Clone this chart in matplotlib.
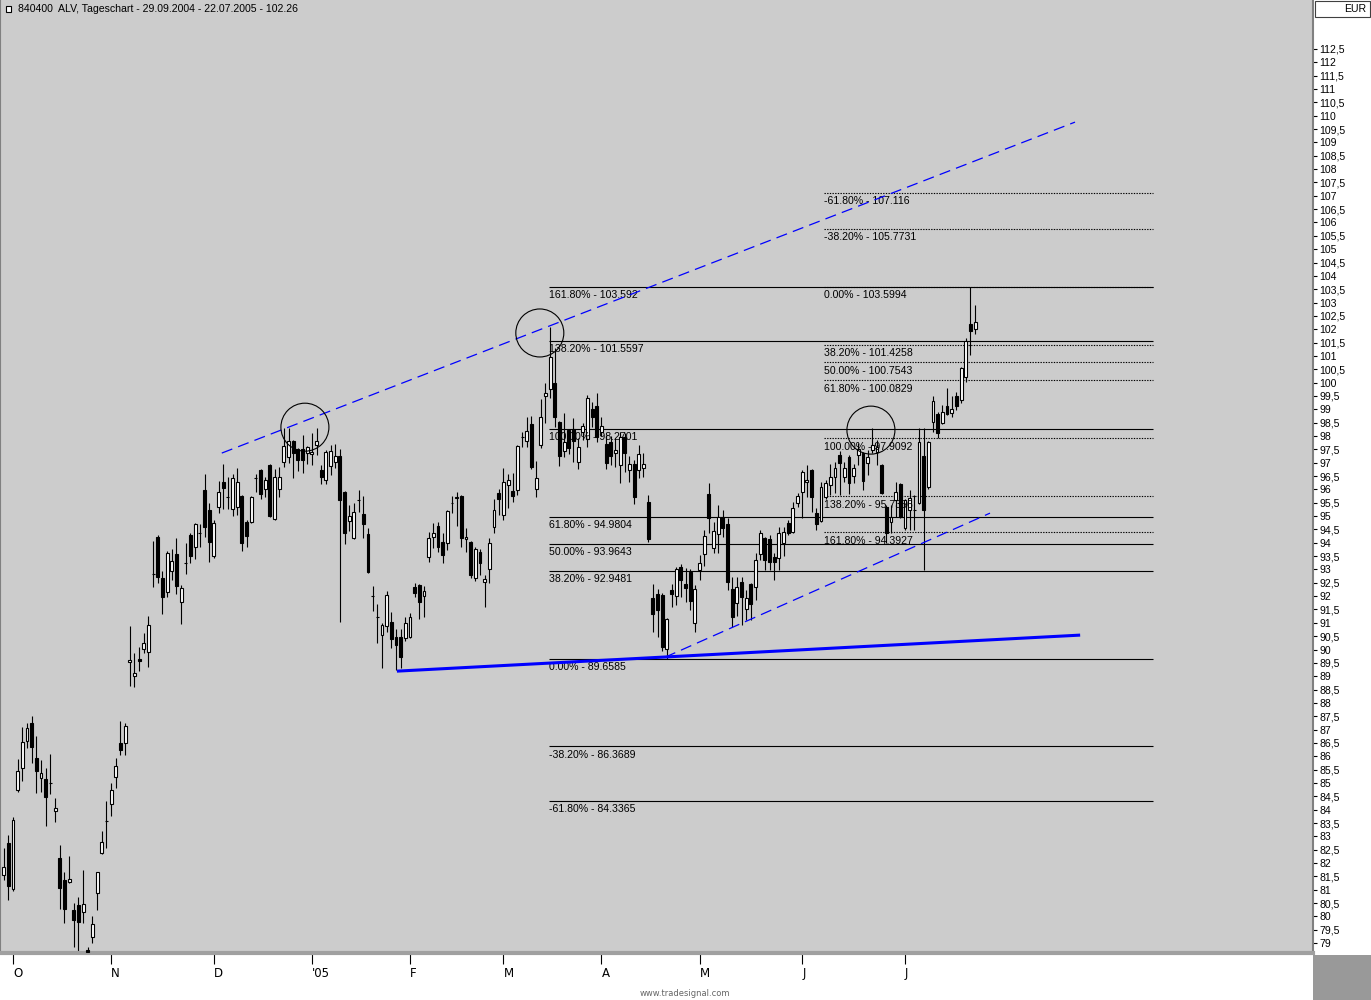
import numpy as np
import pandas as pd
import matplotlib
matplotlib.use("Agg")
import matplotlib.pyplot as plt
from matplotlib.patches import Ellipse, Rectangle

# ALV daily candles 29.09.2004 - 22.07.2005 (EUR)
title = "840400  ALV, Tageschart - 29.09.2004 - 22.07.2005 - 102.26"
holidays = ["2004-12-24", "2004-12-31", "2005-03-25", "2005-03-28"]

opens = [
    81.54, 82.74, 81.02, 84.73, 85.55, 86.56, 87.24, 85.93, 85.18, 85.14,
    84.99, 83.94, 82.18, 81.36, 81.28, 80.23, 80.42, 80.16, 78.73, 79.22,
    80.87, 82.37, 83.57, 84.20, 85.22, 86.49, 86.49, 89.53, 89.00, 89.64,
    90.01, 89.90, 92.82, 94.21, 92.67, 92.15, 92.94, 93.57, 91.77, 93.23,
    94.28, 93.83, 94.36, 95.97, 95.22, 93.50, 95.33, 96.27, 95.71, 95.26,
    95.33, 95.75, 94.77, 94.77, 96.42, 96.72, 96.01, 96.91, 94.88, 96.01,
    97.02, 97.21, 97.81, 97.51, 97.51, 97.36, 97.32, 97.66, 96.72, 96.34,
    96.87, 97.02, 97.24, 95.89, 94.81, 94.17, 95.60, 95.07, 94.32, 92.00,
    91.21, 90.54, 90.87, 91.02, 90.46, 90.46, 90.42, 90.46, 92.34, 92.41,
    92.00, 93.46, 94.21, 94.62, 94.02, 93.98, 95.48, 95.67, 95.75, 94.13,
    94.02, 92.67, 93.65, 92.52, 93.01, 94.58, 95.86, 95.03, 96.16, 95.93,
    95.97, 97.96, 97.81, 98.44, 96.01, 97.66, 99.49, 99.75, 99.98, 98.52,
    97.43, 98.22, 98.26, 97.02, 98.14, 97.88, 99.01, 99.12, 98.14, 97.69,
    97.77, 97.36, 96.91, 97.96, 96.72, 96.94, 96.72, 96.79, 95.52, 91.92,
    92.07, 92.04, 90.01, 92.22, 92.00, 93.09, 92.45, 92.90, 90.99, 92.97,
    93.57, 95.82, 93.80, 94.32, 94.96, 94.70, 92.26, 91.74, 92.52, 91.51,
    92.45, 92.34, 93.57, 94.17, 94.13, 93.46, 93.42, 93.98, 94.73, 94.40,
    95.48, 95.89, 96.27, 96.72, 95.11, 94.81, 95.71, 96.16, 96.46, 97.28,
    96.46, 97.21, 96.49, 97.28, 97.36, 96.98, 97.47, 97.39, 96.91, 95.33,
    94.77, 95.60, 96.19, 94.55, 95.22, 95.22, 95.48, 97.24, 96.08, 98.52,
    98.82, 98.48, 99.12, 98.86, 99.49, 99.34, 100.20, 102.19, 102.00,
]
highs = [
    82.56, 83.04, 83.72, 85.89, 87.09, 87.24, 87.50, 86.75, 85.85, 85.55,
    86.08, 84.43, 82.67, 81.66, 82.26, 80.49, 80.72, 81.73, 78.85, 80.01,
    81.66, 83.19, 84.32, 84.99, 85.93, 87.31, 87.24, 90.87, 89.86, 90.09,
    90.61, 91.25, 94.06, 94.28, 92.94, 93.68, 93.76, 94.17, 92.41, 93.98,
    94.35, 94.75, 94.70, 96.57, 95.48, 94.85, 96.31, 96.94, 96.46, 96.57,
    96.79, 95.80, 94.85, 95.75, 96.57, 96.76, 96.46, 96.95, 96.76, 96.83,
    98.29, 98.29, 97.85, 97.55, 98.03, 97.62, 98.11, 98.29, 96.91, 97.47,
    97.66, 97.69, 97.51, 95.93, 95.41, 95.48, 95.97, 95.75, 94.55, 92.37,
    91.70, 90.99, 92.19, 91.40, 90.76, 90.76, 91.21, 91.36, 92.49, 92.45,
    92.37, 94.40, 94.73, 94.77, 94.36, 95.22, 95.75, 95.89, 95.80, 94.55,
    94.05, 93.83, 93.76, 92.79, 94.17, 95.63, 96.01, 96.79, 96.57, 96.61,
    97.66, 98.14, 98.71, 98.74, 97.06, 99.38, 99.98, 102.08, 101.29, 98.55,
    98.86, 98.25, 98.67, 97.92, 98.48, 99.53, 99.27, 99.60, 98.71, 98.03,
    97.99, 97.92, 98.14, 98.11, 97.24, 97.09, 97.66, 97.36, 95.78, 92.45,
    92.26, 92.10, 91.18, 92.45, 93.09, 93.20, 93.05, 93.01, 92.41, 93.53,
    94.47, 96.23, 94.77, 95.41, 95.22, 94.92, 92.71, 92.71, 92.71, 92.22,
    92.49, 93.61, 94.47, 94.20, 94.28, 93.61, 94.58, 94.58, 94.85, 95.52,
    95.86, 96.72, 96.91, 96.76, 95.30, 96.27, 96.34, 96.94, 97.02, 97.43,
    97.02, 97.28, 96.94, 97.73, 97.40, 97.47, 98.29, 97.84, 96.95, 95.41,
    95.41, 96.27, 96.23, 95.64, 95.97, 95.78, 98.29, 98.29, 97.80, 99.49,
    98.89, 99.15, 99.79, 99.49, 99.64, 100.58, 101.66, 103.60, 102.90,
]
lows = [
    81.36, 80.61, 80.94, 84.65, 85.07, 86.30, 85.74, 84.62, 84.65, 83.38,
    84.58, 83.53, 80.27, 79.75, 81.24, 78.85, 78.62, 79.75, 78.40, 79.00,
    80.23, 82.33, 82.56, 83.75, 84.80, 86.04, 86.04, 88.63, 88.59, 89.19,
    89.86, 89.34, 92.34, 92.49, 91.32, 91.96, 92.60, 92.07, 90.95, 92.82,
    93.23, 93.38, 93.83, 94.21, 93.27, 93.42, 95.11, 95.26, 95.26, 95.00,
    95.03, 93.68, 93.83, 94.73, 95.89, 95.63, 95.71, 94.96, 94.85, 95.71,
    96.83, 96.98, 96.42, 96.68, 96.61, 96.94, 96.91, 97.28, 96.19, 96.19,
    96.53, 96.79, 91.02, 93.95, 94.43, 94.13, 95.15, 94.17, 92.85, 91.44,
    90.24, 89.30, 90.65, 90.05, 89.23, 89.30, 90.31, 90.42, 91.96, 91.14,
    91.21, 93.27, 93.80, 93.65, 93.23, 93.72, 95.11, 94.62, 93.83, 93.65,
    92.67, 92.56, 92.79, 91.59, 92.49, 94.36, 95.03, 94.85, 95.30, 95.52,
    95.78, 97.58, 97.58, 96.76, 95.71, 97.54, 98.48, 99.42, 98.33, 96.87,
    97.21, 97.32, 97.02, 96.76, 97.84, 97.58, 98.33, 97.77, 97.99, 96.76,
    96.91, 96.83, 96.23, 96.64, 96.27, 95.45, 96.42, 96.46, 94.02, 90.65,
    90.46, 89.94, 89.66, 91.59, 91.66, 91.96, 91.77, 91.47, 90.65, 92.60,
    93.12, 94.36, 93.61, 93.61, 94.21, 92.22, 90.84, 91.25, 90.91, 91.10,
    91.10, 91.85, 93.35, 92.97, 92.97, 92.60, 92.97, 93.50, 94.28, 94.36,
    95.33, 94.92, 95.71, 95.15, 94.47, 94.77, 95.63, 95.78, 95.86, 95.78,
    96.27, 95.82, 96.23, 96.91, 95.97, 96.53, 97.36, 96.91, 95.82, 93.98,
    94.36, 94.96, 94.92, 94.47, 94.47, 94.47, 95.45, 92.97, 96.01, 98.14,
    97.92, 98.45, 98.78, 98.71, 98.97, 99.23, 100.02, 101.03, 101.81,
]
closes = [
    81.84, 81.13, 83.60, 85.44, 86.53, 87.05, 86.34, 85.44, 85.37, 84.47,
    84.99, 84.05, 81.06, 80.27, 81.39, 79.86, 79.78, 80.46, 78.66, 79.71,
    81.66, 82.78, 83.57, 84.73, 85.63, 86.23, 87.13, 89.60, 89.11, 89.56,
    90.24, 90.91, 92.82, 92.71, 91.96, 93.61, 93.31, 92.37, 92.30, 93.23,
    93.50, 94.70, 94.36, 94.58, 94.02, 94.73, 95.89, 96.04, 95.71, 96.42,
    96.27, 93.98, 94.25, 95.71, 96.42, 95.82, 96.34, 95.00, 96.46, 96.46,
    97.62, 97.81, 97.36, 97.09, 97.09, 97.58, 97.39, 97.81, 96.46, 97.39,
    97.43, 97.24, 95.60, 94.36, 95.00, 95.15, 95.60, 94.70, 92.90, 92.00,
    91.21, 90.91, 92.04, 90.39, 90.16, 89.71, 90.99, 91.21, 92.11, 91.77,
    92.19, 94.17, 94.36, 93.83, 93.53, 95.18, 95.48, 95.71, 94.17, 94.21,
    92.79, 93.76, 93.23, 92.64, 93.98, 95.22, 95.63, 96.27, 96.34, 95.75,
    97.62, 97.96, 98.18, 96.83, 96.42, 98.71, 99.60, 100.95, 98.71, 97.24,
    97.77, 97.54, 97.81, 97.58, 98.37, 99.42, 98.71, 97.96, 98.37, 96.98,
    97.24, 97.47, 97.96, 97.36, 96.94, 95.71, 97.32, 96.94, 94.13, 91.32,
    91.47, 90.09, 91.14, 92.07, 93.01, 92.60, 92.30, 91.81, 92.26, 93.23,
    94.25, 94.92, 94.43, 94.96, 94.55, 92.52, 91.21, 92.34, 91.96, 91.92,
    91.70, 93.35, 94.36, 93.35, 93.27, 93.27, 94.36, 94.40, 94.36, 95.30,
    95.75, 96.64, 96.34, 95.71, 94.70, 96.08, 96.23, 96.46, 96.79, 96.98,
    96.79, 96.23, 96.79, 97.51, 96.31, 97.21, 97.66, 97.58, 95.86, 94.36,
    94.96, 95.89, 94.96, 95.60, 95.67, 95.22, 97.77, 95.22, 97.77, 99.30,
    98.11, 98.89, 98.82, 99.01, 99.12, 100.54, 101.55, 101.93, 102.26,
]

month_labels = ["O", "N", "D", "'05", "F", "M", "A", "M", "J", "J"]

# Fibonacci projections (left: 89.6585 -> 98.2701, right: 103.5994 -> 97.9092)
left_pcts = ["161.80%", "138.20%", "100.00%", "61.80%", "50.00%", "38.20%",
             "0.00%", "-38.20%", "-61.80%"]
left_levels = [103.592, 101.5597, 98.2701, 94.9804, 93.9643, 92.9481,
               89.6585, 86.3689, 84.3365]
right_pcts = ["-61.80%", "-38.20%", "0.00%", "38.20%", "50.00%", "61.80%",
              "100.00%", "138.20%", "161.80%"]
right_levels = [107.116, 105.7731, 103.5994, 101.4258, 100.7543, 100.0829,
                97.9092, 95.7356, 94.3927]

# trend lines: (bar index, price) pairs
upper_trend = [(46.7, 97.36), (229.4, 109.76)]
lower_trend = [(141.6, 89.71), (211.2, 95.11)]
base_trend = [(84.2, 89.19), (230.5, 90.54)]
# marked points (bar index, price)
circles = [(64.5, 98.33), (114.8, 101.86), (185.7, 98.22)]

dates = pd.bdate_range("2004-09-29", "2005-07-22")
dates = dates[~dates.isin(pd.to_datetime(holidays))]
n = len(opens)
dates = dates[:n]

o = np.array(opens)
h = np.array(highs)
l = np.array(lows)
c = np.array(closes)
x = np.arange(n)

BG = "#cccccc"
FONT = ["Liberation Sans", "DejaVu Sans"]
plt.rcParams["font.family"] = FONT

W, H = 1371, 1000
fig = plt.figure(figsize=(W / 100, H / 100), dpi=100, facecolor="white")
ax = fig.add_axes([0, 47 / H, 1313 / W, 953 / H])
ax.set_facecolor(BG)
ax.set_xlim(-0.79, 280.36)
ax.set_ylim(78.63, 114.335)

# candles
ax.vlines(x, l, h, color="black", lw=0.8, zorder=2)
up = c >= o
bottom = np.minimum(o, c)
height = np.abs(c - o)
ax.bar(x[up], height[up], bottom=bottom[up], width=0.62, color="white",
       edgecolor="black", lw=0.8, zorder=3)
ax.bar(x[~up], height[~up], bottom=bottom[~up], width=0.62, color="black",
       edgecolor="black", lw=0.8, zorder=3)

# fibonacci levels
lx0, lx1, rx0 = 116.8, 246.1, 175.6
ax.hlines(left_levels, lx0, lx1, colors="black", lw=0.8, zorder=1)
ax.hlines(right_levels, rx0, lx1, colors="black", lw=0.8,
          linestyles=(0, (1.2, 1.2)), zorder=1)
for p, v in zip(left_pcts, left_levels):
    ax.annotate(f"{p} - {v}", (lx0, v), xytext=(0, -2.5), textcoords="offset points",
                ha="left", va="top", fontsize=7.6, zorder=4)
for p, v in zip(right_pcts, right_levels):
    ax.annotate(f"{p} - {v}", (rx0, v), xytext=(0, -2.5), textcoords="offset points",
                ha="left", va="top", fontsize=7.6, zorder=4)

# trend lines
for pts, kw in [(upper_trend, dict(lw=0.9, dashes=(9, 5))),
                (lower_trend, dict(lw=0.9, dashes=(9, 5))),
                (base_trend, dict(lw=2.2))]:
    xs, ys = zip(*pts)
    ax.plot(xs, ys, color="#0000ff", zorder=5, solid_capstyle="butt", **kw)

for cx, cy in circles:
    ax.add_patch(Ellipse((cx, cy), 48 / 4.67, 48 / 26.69, fill=False,
                         ec="black", lw=0.8, zorder=6))

# right price axis
yt = np.arange(79, 112.51, 0.5)
ax.yaxis.tick_right()
ax.set_yticks(yt)
ax.set_yticklabels([f"{v:g}".replace(".", ",") for v in yt])
ax.tick_params(axis="y", direction="out", length=3, width=0.8, pad=1.5,
               labelsize=7.6)

# month axis
month_idx = [np.where((dates.year == y) & (dates.month == m))[0][0]
             for y, m in [(2004, 10), (2004, 11), (2004, 12), (2005, 1), (2005, 2),
                          (2005, 3), (2005, 4), (2005, 5), (2005, 6), (2005, 7)]]
ax.set_xticks(month_idx)
ax.set_xticklabels(month_labels, family=["Liberation Sans Narrow", "DejaVu Sans"])
ax.tick_params(axis="x", direction="out", length=8, width=0.8, pad=2,
               labelsize=8.5)
for lbl in ax.get_xticklabels():
    lbl.set_ha("left")

for side in ["top"]:
    ax.spines[side].set_visible(False)
ax.spines["left"].set_color("#808080")
ax.spines["right"].set_color("#808080")
ax.spines["right"].set_linewidth(1.5)
ax.spines["bottom"].set_color("#a0a0a0")
ax.spines["bottom"].set_linewidth(3)

# header, currency box, corner block, watermark
fig.text(18 / W, 1 - 9 / H, title, fontsize=7.6, va="center", ha="left")
fig.patches.append(Rectangle((6 / W, 1 - 12 / H), 5 / W, 6 / H, fc="white",
                             ec="black", lw=0.8, transform=fig.transFigure))
fig.patches.append(Rectangle((1315 / W, 1 - 17 / H), 55 / W, 16 / H, fc="white",
                             ec="#404040", lw=0.8, transform=fig.transFigure))
fig.text(1366 / W, 1 - 9 / H, "EUR", fontsize=7.6, va="center", ha="right")
fig.patches.append(Rectangle((1313 / W, 0), 58 / W, 45 / H, fc="#999999",
                             ec="none", transform=fig.transFigure))
fig.text(685 / W, 7 / H, "www.tradesignal.com", fontsize=6, color="#666666",
         ha="center", va="center", family=["Liberation Sans Narrow", "DejaVu Sans"])

fig.savefig("out.png", dpi=100, facecolor="white")
